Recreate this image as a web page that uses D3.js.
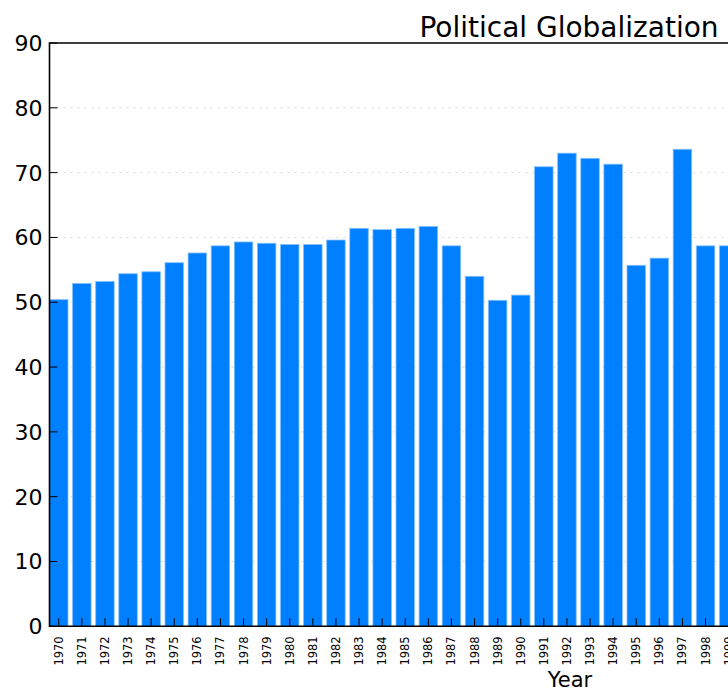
<!DOCTYPE html>
<html>
<head>
<meta charset="utf-8">
<script src="https://cdn.jsdelivr.net/npm/d3@7"></script>
<style>
  body { margin: 0; background: #fff; }
  svg { display: block; font-family: "DejaVu Sans", sans-serif; }
</style>
</head>
<body>
<div id="chart"></div>
<script>
const years = ['1970', '1971', '1972', '1973', '1974', '1975', '1976', '1977', '1978', '1979',
  '1980', '1981', '1982', '1983', '1984', '1985', '1986', '1987', '1988', '1989',
  '1990', '1991', '1992', '1993', '1994', '1995', '1996', '1997', '1998', '1999'];
const politicalValues = [50.4, 52.9, 53.2, 54.4, 54.7, 56.1, 57.6, 58.7, 59.3, 59.1,
  58.9, 58.9, 59.6, 61.4, 61.2, 61.4, 61.7, 58.7, 54.0, 50.3,
  51.1, 70.9, 73.0, 72.2, 71.3, 55.7, 56.8, 73.6, 58.7, 58.7];
const yTicks = [0, 10, 20, 30, 40, 50, 60, 70, 80, 90];

const width = 728, height = 690;
const plotLeft = 49.5, plotTop = 43, plotBottom = 626.3;
const step = 23.1;

const svg = d3.select('#chart').append('svg')
  .attr('width', width)
  .attr('height', height);

const x = d3.scaleBand()
  .domain(years)
  .range([plotLeft, plotLeft + step * (years.length - 0.2)])
  .paddingInner(0.2)
  .paddingOuter(0);

const y = d3.scaleLinear()
  .domain([0, 90])
  .range([plotBottom, plotTop]);

// grid
svg.append('g')
  .selectAll('line')
  .data(yTicks.slice(1, -1))
  .join('line')
  .attr('x1', plotLeft)
  .attr('x2', width)
  .attr('y1', d => y(d))
  .attr('y2', d => y(d))
  .style('stroke', '#d8d8d8')
  .style('stroke-width', 1)
  .style('stroke-dasharray', '2,5');

// bars
svg.append('g')
  .selectAll('rect')
  .data(years)
  .join('rect')
  .attr('x', d => x(d))
  .attr('width', x.bandwidth())
  .attr('y', (d, i) => y(politicalValues[i]))
  .attr('height', (d, i) => y(0) - y(politicalValues[i]))
  .style('fill', '#007fff')
  .style('stroke', '#7fbfff')
  .style('stroke-width', 0.8);

// frame
svg.append('path')
  .attr('d', `M${width + 5},${plotTop}H${plotLeft}V${plotBottom}H${width + 5}`)
  .style('fill', 'none')
  .style('stroke', '#000')
  .style('stroke-width', 1.6);

// y axis ticks inside
const yAxis = svg.append('g');
yAxis.selectAll('line')
  .data(yTicks)
  .join('line')
  .attr('x1', plotLeft)
  .attr('x2', plotLeft + 8)
  .attr('y1', d => y(d))
  .attr('y2', d => y(d))
  .style('stroke', '#000')
  .style('stroke-width', 1);
yAxis.selectAll('text')
  .data(yTicks)
  .join('text')
  .attr('x', plotLeft - 7)
  .attr('y', d => y(d))
  .attr('dy', '0.36em')
  .attr('text-anchor', 'end')
  .style('font-size', '22px')
  .style('fill', '#000')
  .text(d => d);

// x axis ticks inside
const xAxis = svg.append('g');
xAxis.selectAll('line')
  .data(years)
  .join('line')
  .attr('x1', d => x(d) + x.bandwidth() / 2)
  .attr('x2', d => x(d) + x.bandwidth() / 2)
  .attr('y1', plotBottom)
  .attr('y2', plotBottom - 8)
  .style('stroke', '#000')
  .style('stroke-width', 1);
xAxis.selectAll('text')
  .data(years)
  .join('text')
  .attr('transform', d => `translate(${x(d) + x.bandwidth() / 2 + 4},${plotBottom + 10}) rotate(-90)`)
  .attr('text-anchor', 'end')
  .style('font-size', '11.5px')
  .style('fill', '#000')
  .text(d => d);

svg.append('text')
  .attr('x', 570)
  .attr('y', 687)
  .attr('text-anchor', 'middle')
  .style('font-size', '21px')
  .text('Year');

svg.append('text')
  .attr('x', 569)
  .attr('y', 37)
  .attr('text-anchor', 'middle')
  .style('font-size', '28px')
  .text('Political Globalization');
</script>
</body>
</html>
